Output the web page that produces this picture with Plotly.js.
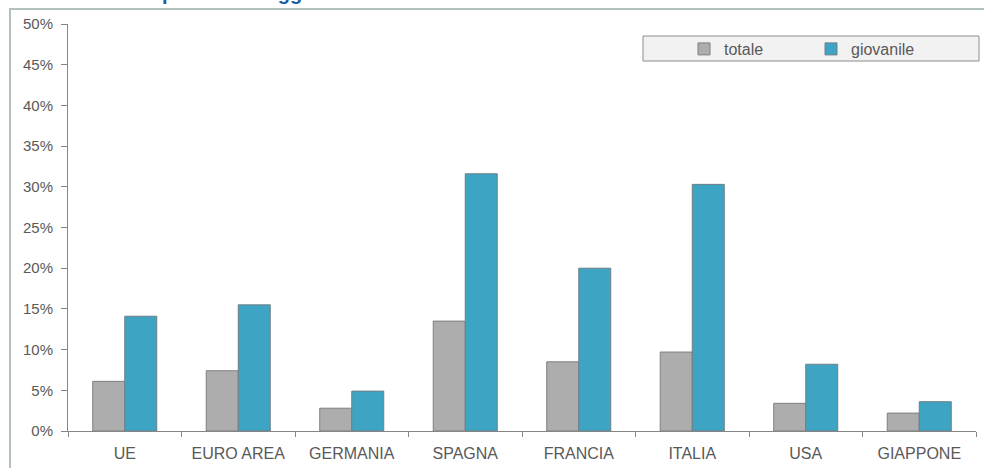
<!DOCTYPE html>
<html>
<head>
<meta charset="utf-8">
<script src="https://cdn.plot.ly/plotly-3.0.1.min.js"></script>
<style>html,body{margin:0;padding:0;background:#fff;}#chart{width:984px;height:468px;}</style>
</head>
<body>
<div id="chart"></div>
<script>
const categories = ["UE", "EURO AREA", "GERMANIA", "SPAGNA", "FRANCIA", "ITALIA", "USA", "GIAPPONE"];
const totale = [0.061, 0.074, 0.028, 0.135, 0.085, 0.097, 0.034, 0.022];
const giovanile = [0.141, 0.155, 0.049, 0.316, 0.200, 0.303, 0.082, 0.036];
const yTicks = [0, 0.05, 0.10, 0.15, 0.20, 0.25, 0.30, 0.35, 0.40, 0.45, 0.50];
const yTickLabels = ["0%", "5%", "10%", "15%", "20%", "25%", "30%", "35%", "40%", "45%", "50%"];
const titleText = "Tassi di disoccupazione: maggio 2012";

const W = 984, H = 468, L = 68, R = 8, T = 24, B = 37;
const pw = W - L - R, ph = H - T - B;
const px = x => (x - L) / pw;
const py = y => (H - B - y) / ph;

const font = "Liberation Sans, Arial, sans-serif";
const traces = [
  {type: "bar", name: "totale", x: categories, y: totale,
   marker: {color: "#adadad", line: {color: "#7f7f7f", width: 1}}},
  {type: "bar", name: "giovanile", x: categories, y: giovanile,
   marker: {color: "#3ea4c3", line: {color: "#6f7f84", width: 1}}}
];
const layout = {
  width: W, height: H,
  margin: {l: L, r: R, t: T, b: B, pad: 0},
  paper_bgcolor: "#ffffff", plot_bgcolor: "rgba(0,0,0,0)",
  barmode: "group", bargap: 0.436, bargroupgap: 0,
  font: {family: font, color: "#595959", size: 15},
  showlegend: true,
  legend: {orientation: "h", x: px(684), y: py(32), xanchor: "left", yanchor: "top",
           bgcolor: "rgba(0,0,0,0)", borderwidth: 0, font: {size: 16, color: "#595959"},
           entrywidth: 82, itemwidth: 30, traceorder: "normal"},
  xaxis: {type: "category", showline: true, linecolor: "#868686", linewidth: 1,
          ticks: "outside", tickson: "boundaries", ticklen: 5, tickcolor: "#868686",
          showgrid: false, zeroline: false, tickfont: {size: 16, color: "#595959"},
          ticklabelstandoff: 8, range: [-0.5, 7.5], fixedrange: true},
  yaxis: {range: [0, 0.5], tickvals: yTicks, ticktext: yTickLabels, showline: true,
          linecolor: "#868686", linewidth: 1, ticks: "outside", ticklen: 6, tickcolor: "#868686",
          showgrid: false, zeroline: false, tickfont: {size: 15, color: "#595959"},
          ticklabelstandoff: 5, fixedrange: true},
  shapes: [
    {type: "line", xref: "paper", yref: "paper", x0: px(10), x1: px(10), y0: py(9), y1: py(470),
     line: {color: "#b3c1bc", width: 2}},
    {type: "line", xref: "paper", yref: "paper", x0: px(9), x1: px(990), y0: py(9), y1: py(9),
     line: {color: "#b3c1bc", width: 2}},
    {type: "rect", xref: "paper", yref: "paper", x0: px(643), x1: px(979), y0: py(61), y1: py(36),
     fillcolor: "#f2f2f2", line: {color: "#8c8c8c", width: 1}, layer: "below"}
  ],
  annotations: [
    {text: "<b>" + titleText + "</b>", xref: "paper", yref: "paper", x: px(6), y: py(6),
     xanchor: "left", yanchor: "bottom", showarrow: false,
     font: {family: font, size: 20, color: "#1f5ca6"}}
  ]
};
Plotly.newPlot("chart", traces, layout, {displayModeBar: false, staticPlot: true});
</script>
</body>
</html>
